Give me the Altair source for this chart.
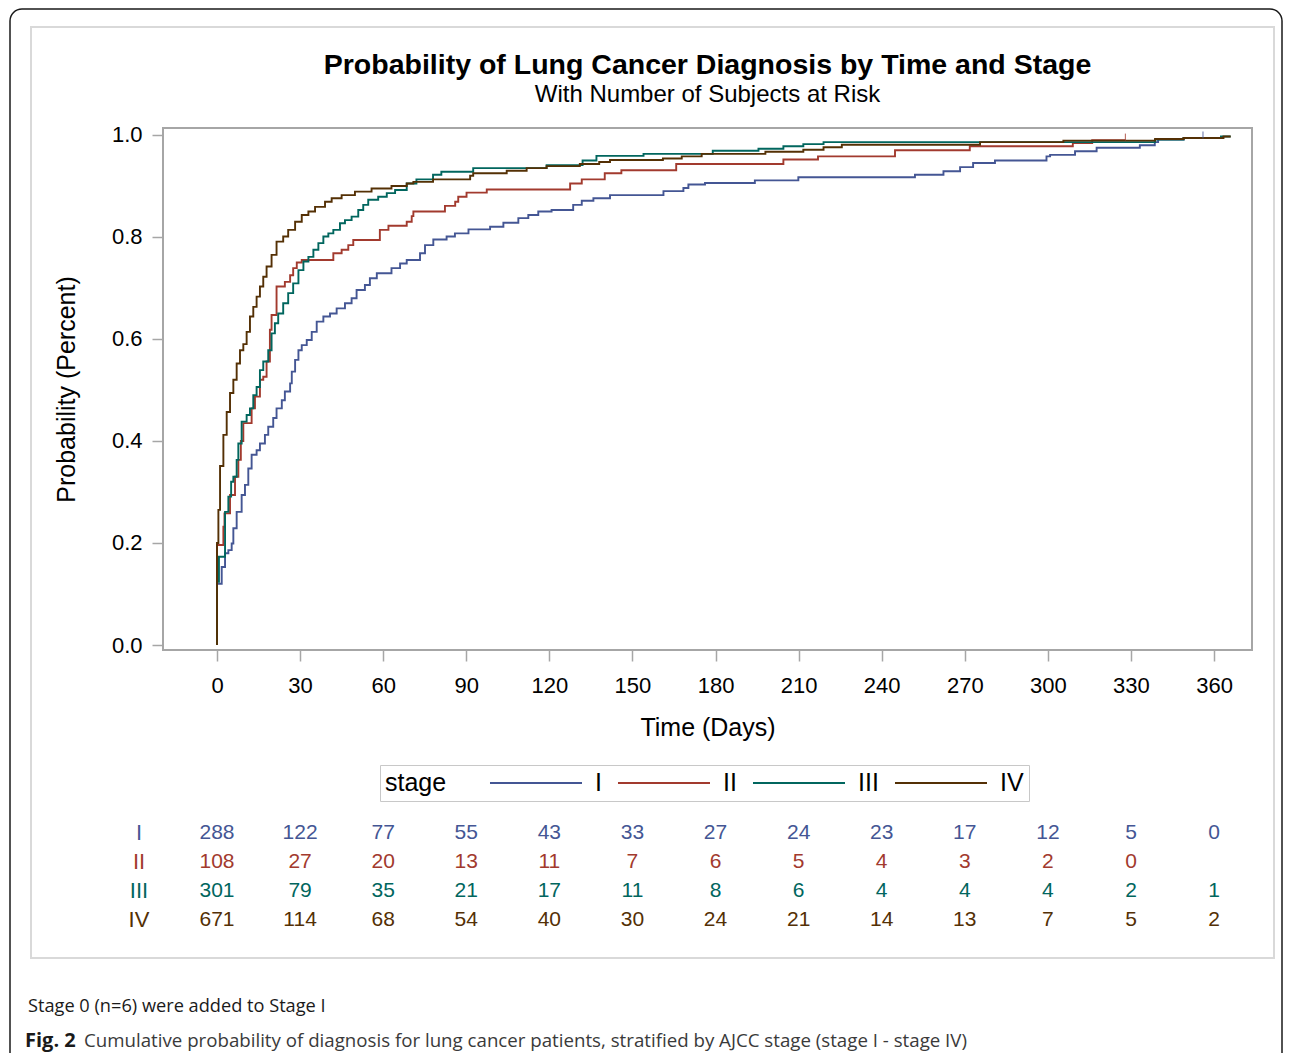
import altair as alt
import pandas as pd

STAGES = ["I", "II", "III", "IV"]
COLORS = ["#445694", "#A23A2E", "#01665E", "#543005"]

# ---- step curves (day, cumulative probability) ----
days_I = [0, 0, 1.7, 2.9, 4.1, 5.3, 5.9, 7.1, 8.9, 10.1, 11.3, 12.5, 14.3, 15.5, 17.3, 18.5, 20.3, 21.5,
          23.4, 24.5, 26.4, 27, 28.2, 29.4, 30.6, 32.4, 34.2, 36, 38.4, 40.8, 43.2, 46.2, 48.6, 50.4, 53.4,
          55.2, 57.7, 63, 66.1, 68.5, 73.3, 75.1, 78.1, 82.9, 85.9, 90.8, 98.6, 103.4, 108.8, 112.4, 116,
          120.8, 128.6, 131.7, 135.9, 141.9, 161.2, 168.4, 170.2, 176.2, 194.2, 209.9, 252, 262.3, 268.3,
          273, 280.9, 299.5, 300.8, 309.8, 317.6, 333.2, 338.6, 339.8, 349, 357]
prob_I = [0, 0.12, 0.153, 0.18, 0.186, 0.199, 0.229, 0.261, 0.294, 0.314, 0.346, 0.373, 0.382, 0.395, 0.412,
          0.428, 0.445, 0.464, 0.48, 0.497, 0.513, 0.536, 0.559, 0.578, 0.588, 0.598, 0.614, 0.634, 0.644,
          0.65, 0.66, 0.67, 0.68, 0.696, 0.706, 0.719, 0.729, 0.739, 0.748, 0.755, 0.768, 0.784, 0.795, 0.801,
          0.807, 0.815, 0.82, 0.828, 0.837, 0.843, 0.85, 0.853, 0.863, 0.871, 0.876, 0.882, 0.89, 0.896,
          0.903, 0.906, 0.911, 0.917, 0.922, 0.929, 0.937, 0.945, 0.95, 0.958, 0.961, 0.968, 0.975, 0.98,
          0.986, 0.991, 0.994, 0.994]

days_II = [0, 0, 2.3, 2.7, 4.7, 6.5, 7.7, 8.6, 9.5, 12.5, 13.7, 15.5, 16.7, 17.9, 19.1, 19.7, 21.5, 24.5,
           26.4, 27.5, 28.8, 30.6, 42, 45, 47.4, 49.2, 58.8, 61.9, 68.5, 70.3, 70.9, 82.3, 86, 87.1, 90.1,
           97.4, 127.5, 131.7, 140, 146, 165.8, 204.5, 217, 244.8, 271.8, 309, 316, 328]
prob_II = [0, 0.196, 0.232, 0.258, 0.294, 0.33, 0.363, 0.40, 0.435, 0.464, 0.487, 0.52, 0.526, 0.556, 0.618,
           0.647, 0.703, 0.712, 0.725, 0.739, 0.75, 0.755, 0.768, 0.775, 0.784, 0.794, 0.814, 0.822, 0.83,
           0.841, 0.85, 0.861, 0.869, 0.879, 0.887, 0.893, 0.905, 0.913, 0.925, 0.931, 0.943, 0.952, 0.958,
           0.97, 0.978, 0.984, 0.99, 0.99]

days_III = [0, 0, 0.7, 2.9, 4.1, 5.1, 5.9, 7.1, 7.7, 8.9, 10.7, 11.9, 13.1, 14.3, 15.5, 16.7, 18.5, 19.7,
            20.9, 22.1, 23.9, 25.7, 27.5, 29.4, 31.2, 33, 34.8, 36.6, 38.4, 40.2, 42, 44.4, 46.2, 48.6, 51,
            52.8, 54.6, 58.2, 61.3, 64.3, 68.5, 72, 78, 81, 92.5, 119, 132, 137, 154, 179, 195.5, 204.5,
            211.7, 219, 338.7, 349, 362.5, 366]
prob_III = [0, 0.124, 0.173, 0.261, 0.291, 0.32, 0.33, 0.363, 0.395, 0.438, 0.451, 0.464, 0.49, 0.506,
            0.539, 0.556, 0.578, 0.611, 0.631, 0.65, 0.67, 0.69, 0.709, 0.735, 0.752, 0.761, 0.775, 0.788,
            0.801, 0.807, 0.814, 0.827, 0.833, 0.84, 0.853, 0.863, 0.873, 0.879, 0.886, 0.892, 0.905, 0.913,
            0.922, 0.928, 0.935, 0.941, 0.95, 0.959, 0.963, 0.969, 0.973, 0.978, 0.982, 0.986, 0.991, 0.994,
            0.997, 0.997]

days_IV = [0, 0, 0.5, 1.1, 2.3, 3.5, 4.7, 5.9, 7.1, 8.3, 9.5, 10.7, 11.9, 13.1, 14.3, 15.5, 16.7, 17.9,
           19.7, 21.5, 23.9, 25.7, 28.2, 30.6, 33, 35.4, 39, 41.4, 45, 49.8, 55.8, 63, 68.5, 70.9, 78, 91.4,
           92.5, 104.6, 111.8, 119, 131, 138, 141.9, 161, 167.8, 175, 198, 211.7, 219, 225.6, 275.5, 305.6,
           338.7, 349, 363.4, 366]
prob_IV = [0, 0.20, 0.265, 0.351, 0.412, 0.457, 0.494, 0.52, 0.552, 0.578, 0.59, 0.614, 0.644, 0.663, 0.683,
           0.703, 0.722, 0.742, 0.765, 0.791, 0.801, 0.814, 0.83, 0.843, 0.85, 0.859, 0.869, 0.876, 0.882,
           0.889, 0.895, 0.9, 0.905, 0.908, 0.913, 0.92, 0.925, 0.93, 0.935, 0.939, 0.943, 0.947, 0.951,
           0.954, 0.958, 0.963, 0.967, 0.971, 0.976, 0.981, 0.986, 0.989, 0.992, 0.994, 0.997, 0.997]

# censoring marks
censor_stage = ["II", "I"]
censor_day = [328, 356]
censor_prob = [0.99, 0.994]

# ---- number at risk table ----
risk_days = [0, 30, 60, 90, 120, 150, 180, 210, 240, 270, 300, 330, 360]
risk_I = [288, 122, 77, 55, 43, 33, 27, 24, 23, 17, 12, 5, 0]
risk_II = [108, 27, 20, 13, 11, 7, 6, 5, 4, 3, 2, 0, None]
risk_III = [301, 79, 35, 21, 17, 11, 8, 6, 4, 4, 4, 2, 1]
risk_IV = [671, 114, 68, 54, 40, 30, 24, 21, 14, 13, 7, 5, 2]

x_ticks = [0, 30, 60, 90, 120, 150, 180, 210, 240, 270, 300, 330, 360]
y_ticks = [0.0, 0.2, 0.4, 0.6, 0.8, 1.0]

title_text = "Probability of Lung Cancer Diagnosis by Time and Stage"
subtitle_text = "With Number of Subjects at Risk"
note_text = "Stage 0 (n=6) were added to Stage I"
fig_label = "Fig. 2"
caption_text = "Cumulative probability of diagnosis for lung cancer patients, stratified by AJCC stage (stage I - stage IV)"

# ---- tables ----
curve_src = {"I": (days_I, prob_I), "II": (days_II, prob_II), "III": (days_III, prob_III), "IV": (days_IV, prob_IV)}
rows = []
for s in STAGES:
    d_list, p_list = curve_src[s]
    for i, (d, p) in enumerate(zip(d_list, p_list)):
        rows.append({"stage": s, "day": d, "prob": p, "idx": i})
curves = pd.DataFrame(rows)

censor = pd.DataFrame({"stage": censor_stage, "day": censor_day, "prob": censor_prob})

risk_src = {"I": risk_I, "II": risk_II, "III": risk_III, "IV": risk_IV}
rrows = []
for s in STAGES:
    for d, n in zip(risk_days, risk_src[s]):
        if n is not None:
            rrows.append({"stage": s, "day": d, "n": str(n)})
risk = pd.DataFrame(rrows)
stage_lbl = pd.DataFrame({"stage": STAGES})
one = pd.DataFrame({"a": [0]})

W, H = 1089, 522
FONT = "Liberation Sans, Arial, sans-serif"
CAPFONT = "Open Sans, Noto Sans, sans-serif"

xscale = alt.Scale(domain=[-19.5, 373.7], nice=False, zero=False)
yscale = alt.Scale(domain=[-0.0098, 1.0137], nice=False, zero=False)
cscale = alt.Scale(domain=STAGES, range=COLORS)
rowscale = alt.Scale(domain=STAGES, range=[705, 792], padding=0)

outer = alt.Chart(one).mark_rect(fillOpacity=0, stroke="#1a1a1a", strokeWidth=1.5, cornerRadius=12).encode(
    x=alt.value(-153), x2=alt.value(1119), y=alt.value(-119), y2=alt.value(960))
inner = alt.Chart(one).mark_rect(fillOpacity=0, stroke="#d9d9d9", strokeWidth=2).encode(
    x=alt.value(-132), x2=alt.value(1111), y=alt.value(-101), y2=alt.value(830))

# long legend line drawn as a custom symbol path (unit = sqrt(size)/2 = 12 px)
LEG_SYMBOL = "M-6.667,0H1"

lines = alt.Chart(curves).mark_line(interpolate="step-after", strokeWidth=1.9).encode(
    x=alt.X("day:Q", scale=xscale,
            axis=alt.Axis(values=x_ticks, title="Time (Days)", labelPadding=14, titleX=W / 2, titleY=77,
                          titleBaseline="middle")),
    y=alt.Y("prob:Q", scale=yscale,
            axis=alt.Axis(values=y_ticks, format=".1f", title="Probability (Percent)", labelPadding=10,
                          titleX=-97, titleY=H / 2, titleBaseline="middle")),
    color=alt.Color("stage:N", scale=cscale,
                    legend=alt.Legend(title="stage", orient="none", legendX=217, legendY=637,
                                      direction="horizontal", titleOrient="left", titleFontSize=25,
                                      titleFontWeight="normal", titleColor="black", titlePadding=110,
                                      titleFont=FONT, labelFont=FONT,
                                      labelFontSize=25, labelColor="black", symbolType=LEG_SYMBOL,
                                      symbolSize=576, symbolStrokeWidth=1.9, labelOffset=12,
                                      columnPadding=12, padding=5, strokeColor="#c8c8c8")),
    order="idx:Q",
)

cens = alt.Chart(censor).mark_tick(orient="vertical", size=7, thickness=1.2, yOffset=-3).encode(
    x=alt.X("day:Q", scale=xscale),
    y=alt.Y("prob:Q", scale=yscale, axis=None),
    color=alt.Color("stage:N", scale=cscale, legend=None),
)

nums = alt.Chart(risk).mark_text(font=FONT, fontSize=21, baseline="middle", align="center").encode(
    x=alt.X("day:Q", scale=xscale),
    y=alt.Y("stage:N", scale=rowscale, axis=None),
    text="n:N",
    color=alt.Color("stage:N", scale=cscale, legend=None),
)

lbls = alt.Chart(stage_lbl).mark_text(font=FONT, fontSize=22, baseline="middle", align="center").encode(
    x=alt.value(-24),
    y=alt.Y("stage:N", scale=rowscale, axis=None),
    text="stage:N",
    color=alt.Color("stage:N", scale=cscale, legend=None),
)

title = alt.Chart(one).mark_text(font=FONT, fontSize=28.5, fontWeight="bold", color="black",
                                 baseline="middle", align="center", text=title_text).encode(
    x=alt.value(W / 2), y=alt.value(-63))
subtitle = alt.Chart(one).mark_text(font=FONT, fontSize=24, color="black",
                                    baseline="middle", align="center", text=subtitle_text).encode(
    x=alt.value(W / 2), y=alt.value(-33))
note = alt.Chart(one).mark_text(font=CAPFONT, fontSize=18.2, color="#1a1a1a",
                                baseline="middle", align="left", text=note_text).encode(
    x=alt.value(-135), y=alt.value(879))
figl = alt.Chart(one).mark_text(font=CAPFONT, fontSize=20, fontWeight="bold", color="#1a1a1a",
                                baseline="middle", align="left", text=fig_label).encode(
    x=alt.value(-138), y=alt.value(913))
cap = alt.Chart(one).mark_text(font=CAPFONT, fontSize=18.7, color="#3a3a3a",
                               baseline="middle", align="left", text=caption_text).encode(
    x=alt.value(-79), y=alt.value(913))

chart = alt.layer(outer, inner, lines, cens, nums, lbls, title, subtitle, note, figl, cap).resolve_scale(
    y="independent", color="independent"
).properties(
    width=W, height=H,
    autosize=alt.AutoSizeParams(type="none"),
    padding={"left": 155, "top": 120, "right": 32, "bottom": 403},
    background="white",
).configure_view(
    stroke="#a6a6a6", strokeWidth=2
).configure_axis(
    labelFont=FONT, labelFontSize=22, labelColor="black", tickColor="#a6a6a6", tickSize=11, tickWidth=1.5,
    titleFont=FONT, titleFontSize=25, titleFontWeight="normal", titleColor="black", domain=False, grid=False,
)

chart.save("out.html", embed_options={"renderer": "svg", "actions": False})
